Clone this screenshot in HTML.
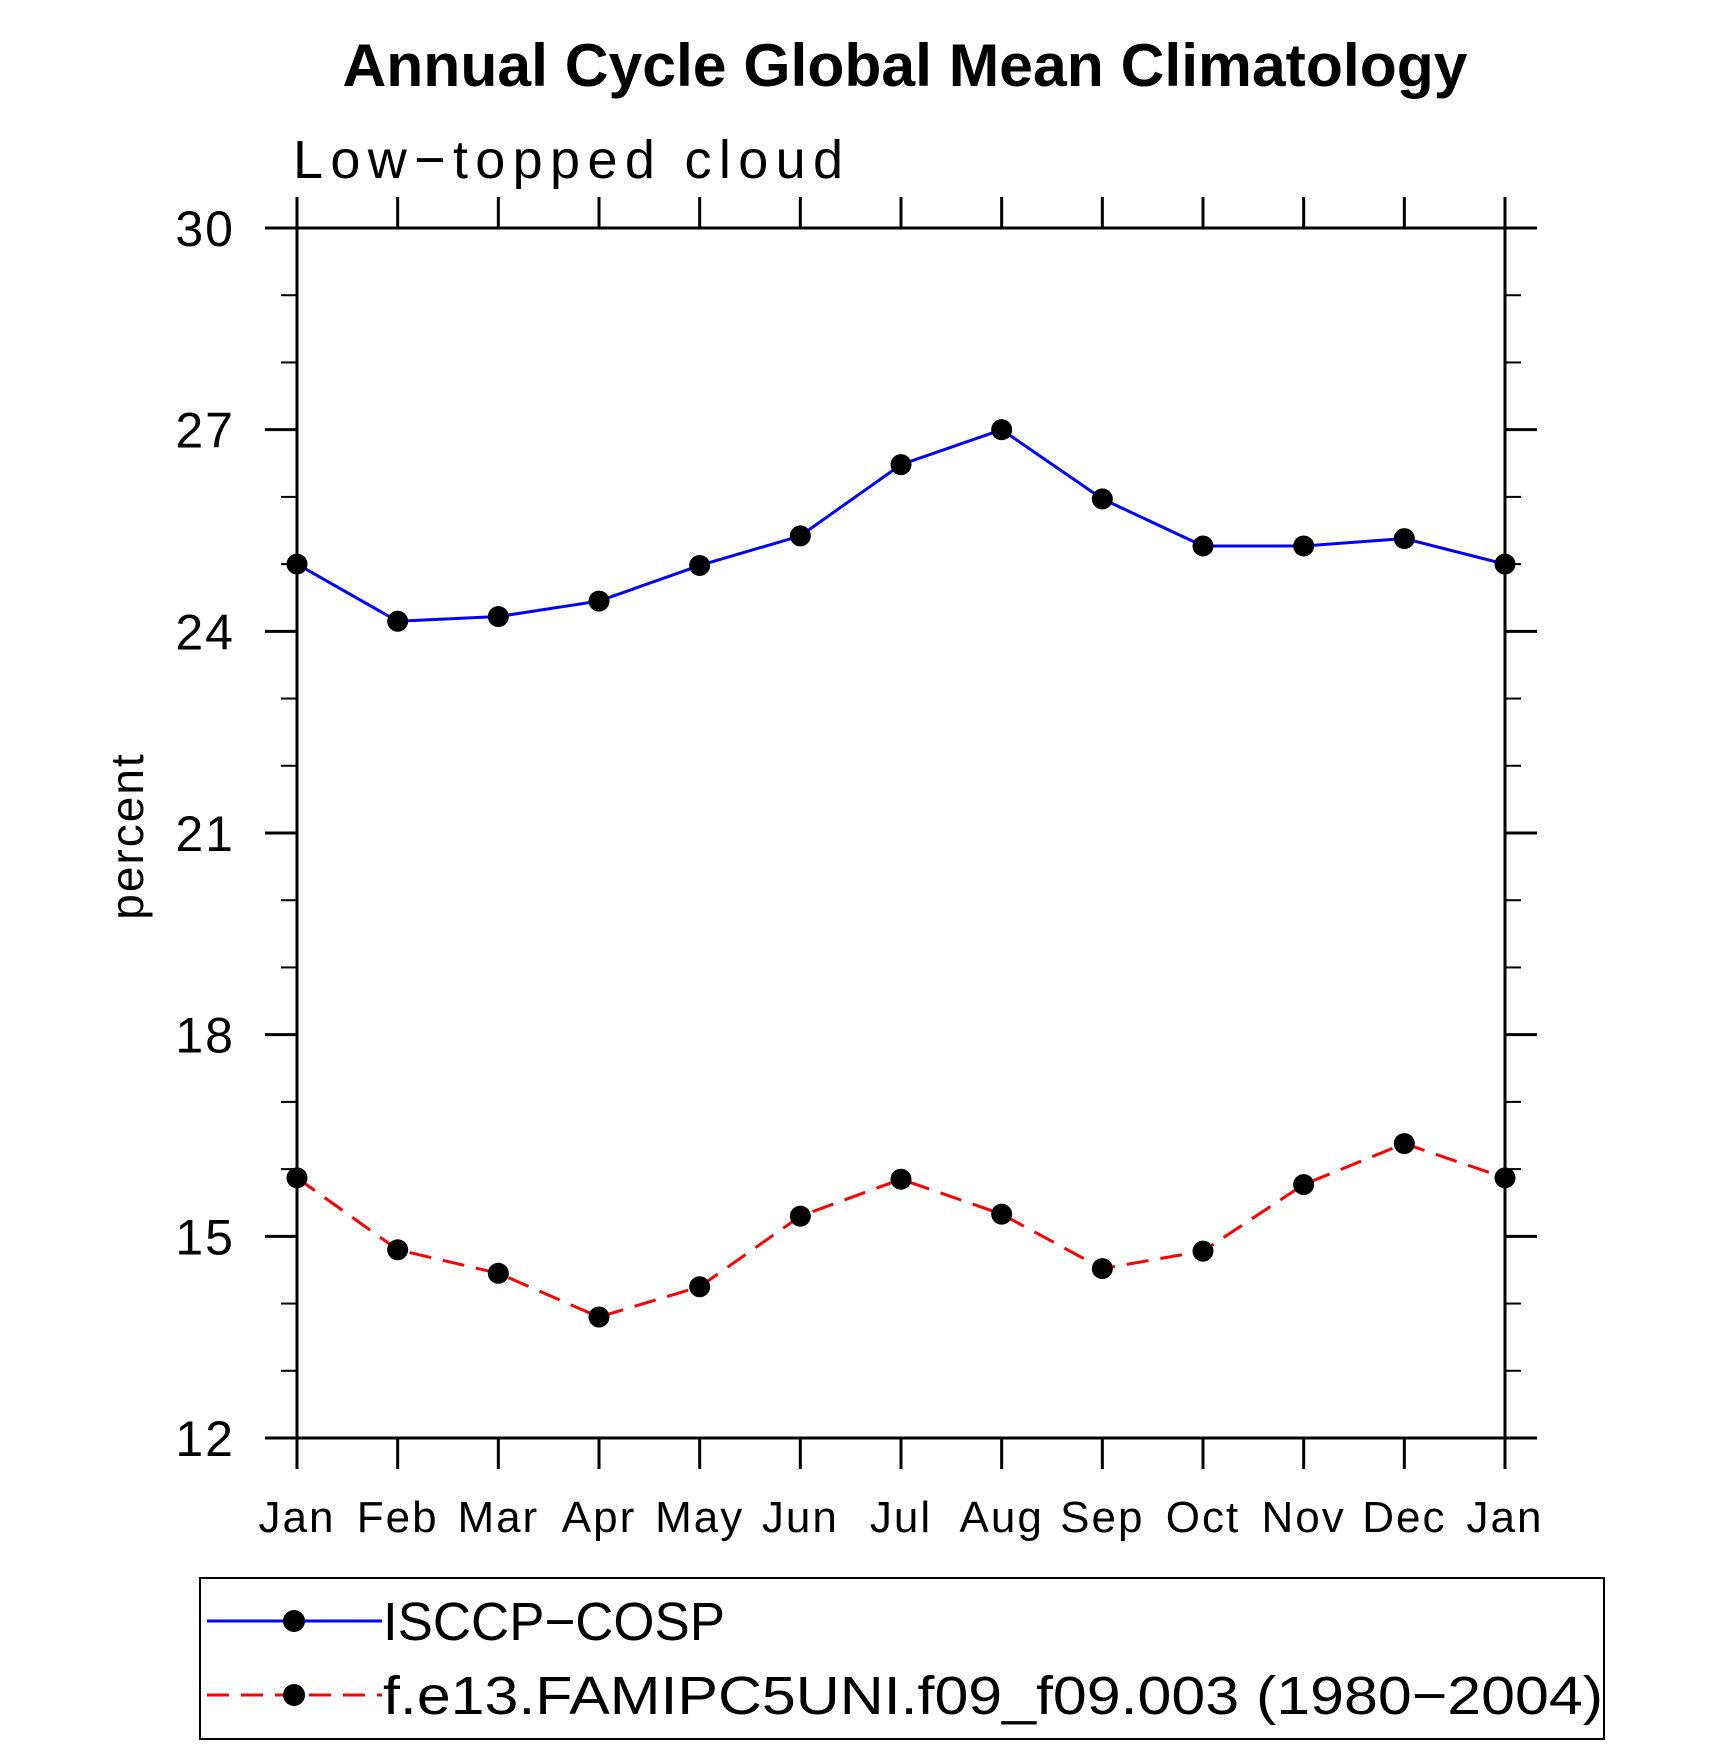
<!DOCTYPE html>
<html><head><meta charset="utf-8"><style>
html,body{margin:0;padding:0;background:#fff;}
svg{display:block;font-family:"Liberation Sans",sans-serif;}
</style></head><body>
<svg id="chart" width="1710" height="1746" viewBox="0 0 1710 1746">
<text x="905" y="86" text-anchor="middle" font-size="60" font-weight="bold" textLength="1125" lengthAdjust="spacingAndGlyphs">Annual Cycle Global Mean Climatology</text>
<text x="293" y="178" font-size="54" textLength="550" lengthAdjust="spacing">Low−topped cloud</text>
<text transform="translate(143,836) rotate(-90)" text-anchor="middle" font-size="46" letter-spacing="2">percent</text>
<g id="axes"></g>
<g id="series"></g>
<rect x="200" y="1578" width="1404" height="161" fill="none" stroke="#000" stroke-width="2"/>
<g>
<line x1="207" y1="1621" x2="382" y2="1621" stroke="#0000ff" stroke-width="3"/>
<circle cx="294" cy="1621" r="11"/>
<text x="383" y="1640" font-size="54" textLength="342" lengthAdjust="spacingAndGlyphs">ISCCP−COSP</text>
</g>
<g>
<line x1="207" y1="1695" x2="382" y2="1695" stroke="#ff0000" stroke-width="3" stroke-dasharray="22,12"/>
<circle cx="294" cy="1695" r="11"/>
<text x="383" y="1714" font-size="54" textLength="1220" lengthAdjust="spacingAndGlyphs">f.e13.FAMIPC5UNI.f09_f09.003 (1980−2004)</text>
</g>
</svg>
<script>
const months = ["Jan","Feb","Mar","Apr","May","Jun","Jul","Aug","Sep","Oct","Nov","Dec","Jan"];
const isccp = [25.0,24.15,24.22,24.45,24.98,25.42,26.48,27.0,25.97,25.27,25.27,25.38,25.0];
const model = [15.87,14.8,14.45,13.8,14.25,15.3,15.85,15.33,14.52,14.78,15.77,16.38,15.87];
const yTicks = [12,15,18,21,24,27,30];
const L=297,R=1505,T=228,B=1438,yMin=12,yMax=30;
const NS="http://www.w3.org/2000/svg";
const xs=i=>L+(R-L)*i/(months.length-1);
const ys=v=>B-(B-T)*(v-yMin)/(yMax-yMin);
const axes=document.getElementById('axes'), ser=document.getElementById('series');
function mk(tag,attrs,parent){const e=document.createElementNS(NS,tag);for(const k in attrs)e.setAttribute(k,attrs[k]);parent.appendChild(e);return e;}
const frame=mk('rect',{x:L,y:T,width:R-L,height:B-T,fill:'none',stroke:'#000','stroke-width':3},axes);


months.forEach((m,i)=>{
  const x=xs(i);
  mk('line',{x1:x,y1:B,x2:x,y2:B+31,stroke:'#000','stroke-width':3},axes);
  mk('line',{x1:x,y1:T,x2:x,y2:T-31,stroke:'#000','stroke-width':3},axes);
  const t=mk('text',{x:x,y:1532,'text-anchor':'middle','font-size':44,'letter-spacing':2},axes);
  t.textContent=m;
  
  
});
for(let v=yMin;v<=yMax;v++){
  const y=ys(v), major=(v-yMin)%3===0;
  const len=major?32:16;
  mk('line',{x1:L-len,y1:y,x2:L,y2:y,stroke:'#000','stroke-width':major?3:2},axes);
  mk('line',{x1:R,y1:y,x2:R+len,y2:y,stroke:'#000','stroke-width':major?3:2},axes);
}
yTicks.forEach(v=>{
  const t=mk('text',{x:235,y:ys(v)+18,'text-anchor':'end','font-size':50,'letter-spacing':2},axes);
  t.textContent=v;
  
  
});
function draw(vals,color,dash,name){
  const p=mk('polyline',{points:vals.map((v,i)=>xs(i)+','+ys(v)).join(' '),fill:'none',stroke:color,'stroke-width':3,'stroke-dasharray':dash},ser);
  
  
  vals.forEach((v,i)=>{
    const c=mk('circle',{cx:xs(i),cy:ys(v),r:10.5,fill:'#000'},ser);
    
    
  });
}
draw(isccp,'#0000ff','none','isccp');
draw(model,'#ff0000','22,12','model');
</script>
</body></html>
